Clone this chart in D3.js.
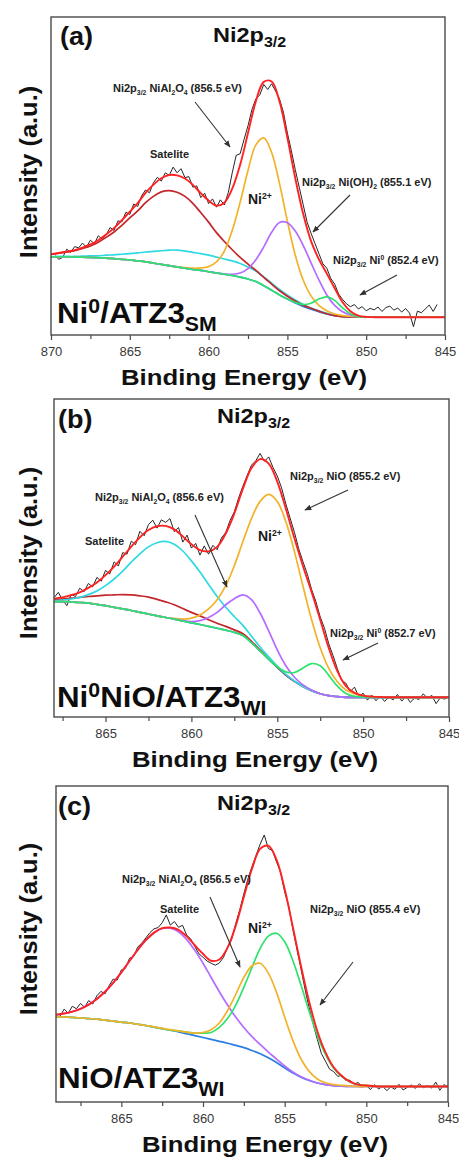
<!DOCTYPE html>
<html>
<head>
<meta charset="utf-8">
<script src="https://cdn.jsdelivr.net/npm/d3@7"></script>
<style>
  html, body { margin: 0; padding: 0; background: #fff; }
  svg { display: block; font-family: "Liberation Sans", Arial, Helvetica, sans-serif; }
</style>
</head>
<body>
<svg id="fig" width="459" height="1159"></svg>
<script>
// ---------------------------------------------------------------
// Ni 2p3/2 XPS spectra, peak-fitted.  Intensities in arbitrary units.
// Fit components are stored as heights above the Shirley background,
// sampled every 0.5 eV; raw counts are sampled every 0.25 eV.
// ---------------------------------------------------------------
const fitStepEV = 0.5;
const rawStepEV = 0.25;

// ---- (a) Ni0/ATZ3SM ----
const fitStartA = 870;
const backgroundA = [24.6,24.6,24.6,24.5,24.5,24.4,24.3,24.2,24.0,23.8,
  23.6,23.3,23.0,22.6,22.2,21.8,21.4,21.0,20.6,20.3,
  19.9,19.5,19.1,18.7,18.2,17.6,16.8,15.5,14.1,12.6,
  11.3,10.1,9.0,8.1,7.3,6.6,6.1,5.8,5.7,5.6,
  5.6,5.6,5.6,5.6,5.6,5.6,5.6,5.6,5.6,5.6,5.6];
const satelliteDarkA = [0.8,1.1,1.5,2.0,2.7,3.6,4.9,6.5,8.4,10.7,
  13.2,15.7,18.6,21.0,22.8,23.6,23.5,22.6,20.8,18.2,
  15.6,12.7,10.3,8.1,6.2,4.7,3.5,2.6,1.9,1.3,
  0.9,0.6,0.4,0.3,0.2,0.1,0,0,0,0,
  0,0,0,0,0,0,0,0,0,0,0];
const satelliteCyanA = [0,0.1,0.1,0.2,0.3,0.5,0.6,0.9,1.2,1.6,
  2.0,2.5,3.1,3.7,4.3,4.9,5.3,5.4,5.4,5.3,
  5.2,5.0,4.8,4.6,4.3,3.8,3.3,2.8,2.2,1.7,
  1.3,0.9,0.6,0.4,0.3,0.2,0.1,0,0,0,
  0,0,0,0,0,0,0,0,0,0,0];
const niAl2O4A = [0,0,0,0,0,0,0,0,0,0,
  0,0,0,0,0,0,0,0.2,0.4,0.8,
  1.6,3.5,7.3,14.2,23.5,34.1,43.0,46.5,43.3,35.0,
  24.5,15.0,8.3,4.2,2.0,1.0,0.5,0.3,0.2,0.1,
  0,0,0,0,0,0,0,0,0,0,0];
const niOH2A = [0,0,0,0,0,0,0,0,0,0,
  0,0,0,0,0,0,0,0,0,0,
  0,0,0.1,0.4,1.3,3.3,6.9,12.2,18.2,22.8,
  24.0,22.6,19.2,14.6,10.0,6.0,3.2,1.5,0.6,0.2,
  0.1,0,0,0,0,0,0,0,0,0,0];
const ni0A = [0,0,0,0,0,0,0,0,0,0,
  0,0,0,0,0,0,0,0,0,0,
  0,0,0,0,0,0,0,0,0,0,
  0,0.1,0.6,1.9,4.0,5.4,4.8,2.7,1.0,0.2,
  0,0,0,0,0,0,0,0,0,0,0];
const rawStartA = 869.75;
const rawA = [25.0,23.8,24.5,27.0,26.0,27.8,27.4,28.9,27.6,29.8,
  28.7,31.2,30.1,31.5,33.8,32.9,35.9,35.6,38.6,37.9,
  41.2,40.4,43.8,45.6,44.7,47.9,49.6,48.4,51.0,50.2,
  52.8,51.0,52.3,49.5,49.8,46.5,46.9,43.2,44.6,41.3,
  42.8,40.2,42.5,40.9,44.8,51.0,56.5,57.0,61.5,65.8,
  70.9,74.3,75.5,78.8,77.2,79.0,76.7,74.2,70.0,63.5,
  58.0,52.0,46.5,41.0,35.5,32.0,28.8,25.6,22.4,21.0,
  17.8,16.0,12.9,11.2,9.8,8.9,9.6,8.2,8.9,7.6,
  8.4,7.9,8.8,7.4,8.6,9.1,7.8,8.5,7.2,8.3,
  6.9,2.6,7.5,7.0,8.2,9.4,7.4,9.6];

// ---- (b) Ni0NiO/ATZ3WI ----
const fitStartB = 868;
const backgroundB = [36.3,36.3,36.2,36.0,35.8,35.4,35.0,34.5,34.0,33.5,
  32.9,32.4,31.8,31.3,30.8,30.2,29.6,29.1,28.5,27.9,
  27.3,26.6,25.6,23.4,20.8,18.2,15.6,13.2,11.2,9.6,
  8.3,7.3,6.7,6.4,6.2,6.2,6.2,6.2,6.2,6.2,
  6.2,6.2,6.2,6.2,6.2,6.2,6.2];
const satelliteCyanB = [0.3,0.5,0.9,1.6,2.7,4.2,6.3,8.9,11.9,15.2,
  18.4,21.1,23.0,23.9,23.5,22.0,19.5,16.5,13.2,10.0,
  7.2,5.0,3.2,2.0,1.2,0.7,0.4,0.2,0.1,0,
  0,0,0,0,0,0,0,0,0,0,
  0,0,0,0,0,0,0];
const satelliteDarkB = [0.6,0.8,1.2,1.6,2.1,2.7,3.3,3.9,4.5,4.9,
  5.2,5.3,5.2,4.9,4.5,3.9,3.3,2.7,2.1,1.6,
  1.2,0.8,0.6,0.4,0.2,0.1,0.1,0,0,0,
  0,0,0,0,0,0,0,0,0,0,
  0,0,0,0,0,0,0];
const niOB = [0,0,0,0,0,0,0,0,0,0,
  0,0,0,0,0.2,0.6,1.5,3.0,5.5,9.0,
  14.0,21.0,29.6,39.0,47.0,51.8,52.2,48.2,40.8,31.5,
  22.3,14.5,8.6,4.7,2.3,1.1,0.4,0.2,0.1,0,
  0,0,0,0,0,0,0];
const niAl2O4B = [0,0,0,0,0,0,0,0,0,0,
  0,0,0,0,0,0.1,0.4,1.2,2.8,5.0,
  8.0,10.6,12.8,13.5,11.9,8.9,5.5,2.9,1.3,0.5,
  0.2,0,0,0,0,0,0,0,0,0,
  0,0,0,0,0,0,0];
const ni0B = [0,0,0,0,0,0,0,0,0,0,
  0,0,0,0,0,0,0,0,0,0,
  0,0,0,0,0,0,0.2,1.0,2.8,5.8,
  8.5,8.8,6.4,3.3,1.2,0.3,0.1,0,0,0,
  0,0,0,0,0,0,0];
const rawStartB = 868;
const rawB = [37.5,39.2,36.8,35.0,38.6,37.9,40.5,39.4,42.0,40.9,
  43.9,42.7,46.1,45.0,48.8,47.5,51.7,51.2,55.3,54.2,
  58.4,57.0,60.5,61.9,59.4,62.0,61.2,62.4,58.3,59.6,
  55.0,57.2,53.1,54.6,50.9,53.8,51.2,54.0,52.6,56.3,
  58.0,61.8,64.5,68.9,72.6,76.0,79.2,80.6,82.9,80.4,
  81.8,78.5,75.8,72.1,67.0,62.5,58.1,52.9,48.8,44.9,
  40.1,36.3,31.5,27.9,23.0,19.3,15.2,11.5,10.6,8.0,
  9.4,6.4,7.5,5.3,6.9,5.1,6.6,4.9,6.2,5.4,
  7.1,5.0,6.5,4.6,6.0,5.5,7.3,5.9,6.8,4.2,
  6.1,5.6,6.5];

// ---- (c) NiO/ATZ3WI ----
const fitStartC = 869;
const backgroundC = [27.0,26.9,26.8,26.6,26.4,26.2,25.9,25.6,25.3,25.0,
  24.6,24.2,23.7,23.2,22.7,22.2,21.6,21.0,20.4,19.8,
  19.2,18.6,17.9,17.2,16.3,15.3,14.0,12.5,10.8,9.2,
  7.8,6.8,6.0,5.5,5.2,5.05,4.95,4.9,4.9,4.9,
  4.9,4.9,4.9,4.9,4.9,4.9,4.9,4.9,4.9];
const satellitePurpleC = [0.6,1.1,1.8,2.9,4.4,6.4,9.0,12.1,15.7,19.6,
  23.5,27.0,29.8,31.7,32.3,31.7,29.8,27.0,23.5,19.6,
  15.7,12.1,9.0,6.4,4.4,2.9,1.8,1.1,0.6,0.3,
  0.2,0.1,0,0,0,0,0,0,0,0,
  0,0,0,0,0,0,0,0,0];
const niAl2O4C = [0,0,0,0,0,0,0,0,0,0,
  0,0,0.1,0.1,0.2,0.3,0.5,0.8,1.6,3.1,
  5.8,10.3,16.1,22.2,26.8,28.6,26.8,22.2,16.1,10.3,
  5.8,2.9,1.3,0.6,0.3,0.2,0.1,0,0,0,
  0,0,0,0,0,0,0,0,0];
const niOC = [0,0,0,0,0,0,0,0,0,0,
  0,0,0,0,0,0.3,0.5,0.8,1.4,2.2,
  4.4,7.8,12.7,19.1,26.3,33.3,38.5,40.9,39.9,35.6,
  29.2,21.9,15.1,9.6,5.5,3.0,1.4,0.6,0.3,0.1,
  0,0,0,0,0,0,0,0,0];
const rawStartC = 868.75;
const rawC = [27.2,29.4,28.1,30.3,29.5,31.2,30.0,32.1,31.0,33.6,
  35.0,34.2,36.8,38.9,38.6,41.8,42.3,45.5,46.0,49.0,
  50.3,51.9,53.6,54.8,55.2,56.7,59.2,56.0,57.1,55.3,
  55.9,52.8,51.6,49.2,46.9,45.8,44.6,43.9,43.3,44.0,
  45.7,48.9,51.4,56.4,60.8,65.9,70.6,74.5,78.1,81.6,
  84.5,80.2,79.6,76.0,72.8,66.5,61.9,54.7,48.3,42.1,
  35.6,29.8,24.6,19.8,15.3,12.9,10.4,9.6,8.1,8.5,
  6.8,6.9,5.6,6.2,4.7,5.3,3.9,5.5,4.1,5.0,
  3.6,4.8,4.0,5.6,3.8,4.6,5.4,4.3,5.8,4.5,
  5.2,4.4,6.3,3.7,5.5,4.8];

// axis ticks (binding energy, eV)
const majorTicksA = [870, 865, 860, 855, 850, 845];
const minorTicksA = [867.5, 862.5, 857.5, 852.5, 847.5];
const majorTicksBC = [865, 860, 855, 850, 845];
const minorTicksBC = [867.5, 862.5, 857.5, 852.5, 847.5];

// ---------------------------------------------------------------
const COLORS = {
  raw: '#262626', envelope: '#ff2222', dark: '#c3262b', cyan: '#2fd9e3',
  yellow: '#f2b22a', purple: '#b46cff', green: '#2ee26d', blue: '#2c7de0'
};

const panels = [
  {
    id: 'a', frame: { left: 51, right: 445, top: 17, bottom: 335 }, domain: [870, 845],
    majorTicks: majorTicksA, minorTicks: minorTicksA,
    fitStart: fitStartA, background: backgroundA,
    components: [
      { values: satelliteCyanA, color: COLORS.cyan },
      { values: satelliteDarkA, color: COLORS.dark },
      { values: niAl2O4A, color: COLORS.yellow },
      { values: niOH2A, color: COLORS.purple },
      { values: ni0A, color: COLORS.green }
    ],
    rawStart: rawStartA, raw: rawA,
    letter: { t: '(a)', x: 60, y: 45 },
    title: { x: 213, y: 42 },
    xTitle: { x: 244, y: 385 }, yTitle: { x: 37, y: 172 },
    sample: { x: 57, y: 323, parts: [{ t: 'Ni' }, { t: '0', sup: true }, { t: '/ATZ3' }, { t: 'SM', sub: true }] },
    notes: [
      { x: 113, y: 92, parts: [{ t: 'Ni2p' }, { t: '3/2', sub: true }, { t: ' NiAl' }, { t: '2', sub: true }, { t: 'O' }, { t: '4', sub: true }, { t: ' (856.5 eV)' }] },
      { x: 150, y: 158, parts: [{ t: 'Satelite' }] },
      { x: 302, y: 186, parts: [{ t: 'Ni2p' }, { t: '3/2', sub: true }, { t: ' Ni(OH)' }, { t: '2', sub: true }, { t: ' (855.1 eV)' }] },
      { x: 333, y: 264, parts: [{ t: 'Ni2p' }, { t: '3/2', sub: true }, { t: ' Ni' }, { t: '0', sup: true }, { t: ' (852.4 eV)' }] }
    ],
    ni2: { x: 248, y: 204 },
    arrows: [[195, 102, 230, 147], [350, 195, 313, 232], [397, 275, 360, 295]]
  },
  {
    id: 'b', frame: { left: 54, right: 449, top: 399, bottom: 717 }, domain: [868, 845],
    majorTicks: majorTicksBC, minorTicks: minorTicksBC,
    fitStart: fitStartB, background: backgroundB,
    components: [
      { values: satelliteDarkB, color: COLORS.dark },
      { values: satelliteCyanB, color: COLORS.cyan },
      { values: niOB, color: COLORS.yellow },
      { values: niAl2O4B, color: COLORS.purple },
      { values: ni0B, color: COLORS.green }
    ],
    rawStart: rawStartB, raw: rawB,
    letter: { t: '(b)', x: 58, y: 428 },
    title: { x: 217, y: 423 },
    xTitle: { x: 255, y: 767 }, yTitle: { x: 37, y: 553 },
    sample: { x: 57, y: 707, parts: [{ t: 'Ni' }, { t: '0', sup: true }, { t: 'NiO/ATZ3' }, { t: 'WI', sub: true }] },
    notes: [
      { x: 290, y: 480, parts: [{ t: 'Ni2p' }, { t: '3/2', sub: true }, { t: ' NiO (855.2 eV)' }] },
      { x: 95, y: 501, parts: [{ t: 'Ni2p' }, { t: '3/2', sub: true }, { t: ' NiAl' }, { t: '2', sub: true }, { t: 'O' }, { t: '4', sub: true }, { t: ' (856.6 eV)' }] },
      { x: 85, y: 545, parts: [{ t: 'Satelite' }] },
      { x: 330, y: 637, parts: [{ t: 'Ni2p' }, { t: '3/2', sub: true }, { t: ' Ni' }, { t: '0', sup: true }, { t: ' (852.7 eV)' }] }
    ],
    ni2: { x: 258, y: 541 },
    arrows: [[348, 490, 305, 510], [195, 515, 227, 587], [378, 643, 343, 660]]
  },
  {
    id: 'c', frame: { left: 56, right: 448, top: 786, bottom: 1102 }, domain: [869, 845],
    majorTicks: majorTicksBC, minorTicks: minorTicksBC,
    fitStart: fitStartC, background: backgroundC,
    components: [
      { values: satellitePurpleC, color: COLORS.purple },
      { values: niOC, color: COLORS.green },
      { values: niAl2O4C, color: COLORS.yellow }
    ],
    rawStart: rawStartC, raw: rawC,
    letter: { t: '(c)', x: 58, y: 815 },
    title: { x: 217, y: 810 },
    xTitle: { x: 265, y: 1152 }, yTitle: { x: 37, y: 929 },
    sample: { x: 58, y: 1088, parts: [{ t: 'NiO/ATZ3' }, { t: 'WI', sub: true }] },
    notes: [
      { x: 122, y: 883, parts: [{ t: 'Ni2p' }, { t: '3/2', sub: true }, { t: ' NiAl' }, { t: '2', sub: true }, { t: 'O' }, { t: '4', sub: true }, { t: ' (856.5 eV)' }] },
      { x: 160, y: 913, parts: [{ t: 'Satelite' }] },
      { x: 310, y: 913, parts: [{ t: 'Ni2p' }, { t: '3/2', sub: true }, { t: ' NiO (855.4 eV)' }] }
    ],
    ni2: { x: 248, y: 933 },
    arrows: [[210, 897, 240, 967], [353, 962, 320, 1005]]
  }
];

const svg = d3.select('#fig');
svg.append('rect').attr('width', 459).attr('height', 1159).attr('fill', '#fff');

const defs = svg.append('defs');
defs.append('marker')
  .attr('id', 'head').attr('viewBox', '0 0 10 10')
  .attr('refX', 9).attr('refY', 5)
  .attr('markerWidth', 7).attr('markerHeight', 7)
  .attr('markerUnits', 'userSpaceOnUse')
  .attr('orient', 'auto')
  .append('path').attr('d', 'M0,1 L10,5 L0,9 Z').attr('fill', '#333');

// text with sub/superscript runs, optionally stretched horizontally
function richText(parent, x, y, parts, o) {
  const t = parent.append('text')
    .attr('transform', `translate(${x},${y}) scale(${o.sx || 1},1)`)
    .attr('font-size', o.size)
    .attr('font-weight', o.weight || 'bold')
    .attr('fill', o.fill || '#222')
    .attr('text-anchor', o.anchor || 'start');
  let shift = 0;
  parts.forEach(p => {
    const target = p.sub ? o.size * 0.26 : p.sup ? -o.size * 0.36 : 0;
    const span = t.append('tspan').text(p.t).attr('dy', target - shift);
    if (p.sub || p.sup) span.attr('font-size', o.size * (o.scriptScale || 0.66));
    shift = target;
  });
  return t;
}

panels.forEach(p => {
  const g = svg.append('g').attr('class', 'panel-' + p.id);
  const f = p.frame;
  const x = d3.scaleLinear().domain(p.domain).range([f.left, f.right]);
  const y = d3.scaleLinear().domain([0, 100]).range([f.bottom, f.top]);

  const clipId = 'clip-' + p.id;
  defs.append('clipPath').attr('id', clipId)
    .append('rect').attr('x', f.left).attr('y', f.top)
    .attr('width', f.right - f.left).attr('height', f.bottom - f.top);

  const plot = g.append('g').attr('clip-path', `url(#${clipId})`);
  const energy = i => p.fitStart - i * fitStepEV;
  const smooth = d3.line().x(d => x(d[0])).y(d => y(d[1])).curve(d3.curveCatmullRom.alpha(0.5));

  // raw counts
  const rawPts = p.raw.map((v, i) => [p.rawStart - i * rawStepEV, v]);
  plot.append('path').datum(rawPts)
    .attr('d', d3.line().x(d => x(d[0])).y(d => y(d[1])))
    .attr('fill', 'none').attr('stroke', COLORS.raw).attr('stroke-width', 1).attr('stroke-linejoin', 'round');

  // Shirley background
  plot.append('path').datum(p.background.map((b, i) => [energy(i), b]))
    .attr('d', smooth).attr('fill', 'none').attr('stroke', COLORS.blue).attr('stroke-width', 1.7);

  // fitted components, each sitting on the background
  p.components.forEach(c => {
    plot.append('path').datum(c.values.map((v, i) => [energy(i), p.background[i] + v]))
      .attr('d', smooth).attr('fill', 'none').attr('stroke', c.color).attr('stroke-width', 1.7);
  });

  // fit envelope = background + all components
  const envelope = p.background.map((b, i) => [energy(i), b + d3.sum(p.components, c => c.values[i])]);
  plot.append('path').datum(envelope)
    .attr('d', smooth).attr('fill', 'none').attr('stroke', COLORS.envelope).attr('stroke-width', 1.9);

  // axes
  const axMajor = g.append('g').attr('transform', `translate(0,${f.bottom})`)
    .call(d3.axisBottom(x).tickValues(p.majorTicks).tickSize(5).tickPadding(7).tickFormat(d3.format('d')));
  const axMinor = g.append('g').attr('transform', `translate(0,${f.bottom})`)
    .call(d3.axisBottom(x).tickValues(p.minorTicks).tickSize(4).tickFormat(''));
  [axMajor, axMinor].forEach(a => {
    a.select('.domain').remove();
    a.selectAll('line').attr('stroke', '#4a4a4a').attr('stroke-width', 1.2);
  });
  axMajor.attr('font-family', '"Liberation Sans", Arial, sans-serif').attr('font-size', 13);
  axMajor.selectAll('text').attr('fill', '#3a3a3a');

  // frame
  g.append('rect').attr('x', f.left).attr('y', f.top)
    .attr('width', f.right - f.left).attr('height', f.bottom - f.top)
    .attr('fill', 'none').attr('stroke', '#4a4a4a').attr('stroke-width', 1.4);

  // axis titles
  g.append('text').attr('transform', `translate(${p.xTitle.x},${p.xTitle.y}) scale(1.12,1)`)
    .attr('text-anchor', 'middle').attr('font-size', 23).attr('font-weight', 'bold').attr('fill', '#111')
    .text('Binding Energy (eV)');
  g.append('text').attr('transform', `translate(${p.yTitle.x},${p.yTitle.y}) rotate(-90) scale(1.06,1)`)
    .attr('text-anchor', 'middle').attr('font-size', 24).attr('font-weight', 'bold').attr('fill', '#111')
    .text('Intensity (a.u.)');

  // panel letter, region title
  g.append('text').attr('transform', `translate(${p.letter.x},${p.letter.y}) scale(1.08,1)`)
    .attr('font-size', 25).attr('font-weight', 'bold').attr('fill', '#111').text(p.letter.t);
  richText(g, p.title.x, p.title.y, [{ t: 'Ni2p' }, { t: '3/2', sub: true }], { size: 21, sx: 1.12, fill: '#111', scriptScale: 0.68 });

  // sample name
  richText(g, p.sample.x, p.sample.y, p.sample.parts, { size: 29, sx: 1.08, fill: '#0d0d0d', scriptScale: 0.68 });

  // peak annotations
  p.notes.forEach(n => richText(g, n.x, n.y, n.parts, { size: 11, fill: '#222', scriptScale: 0.62 }));
  richText(g, p.ni2.x, p.ni2.y, [{ t: 'Ni' }, { t: '2+', sup: true }], { size: 14, fill: '#1a1a1a', scriptScale: 0.62 });

  p.arrows.forEach(a => {
    g.append('line').attr('x1', a[0]).attr('y1', a[1]).attr('x2', a[2]).attr('y2', a[3])
      .attr('stroke', '#333').attr('stroke-width', 1.1).attr('marker-end', 'url(#head)');
  });
});
</script>
</body>
</html>
